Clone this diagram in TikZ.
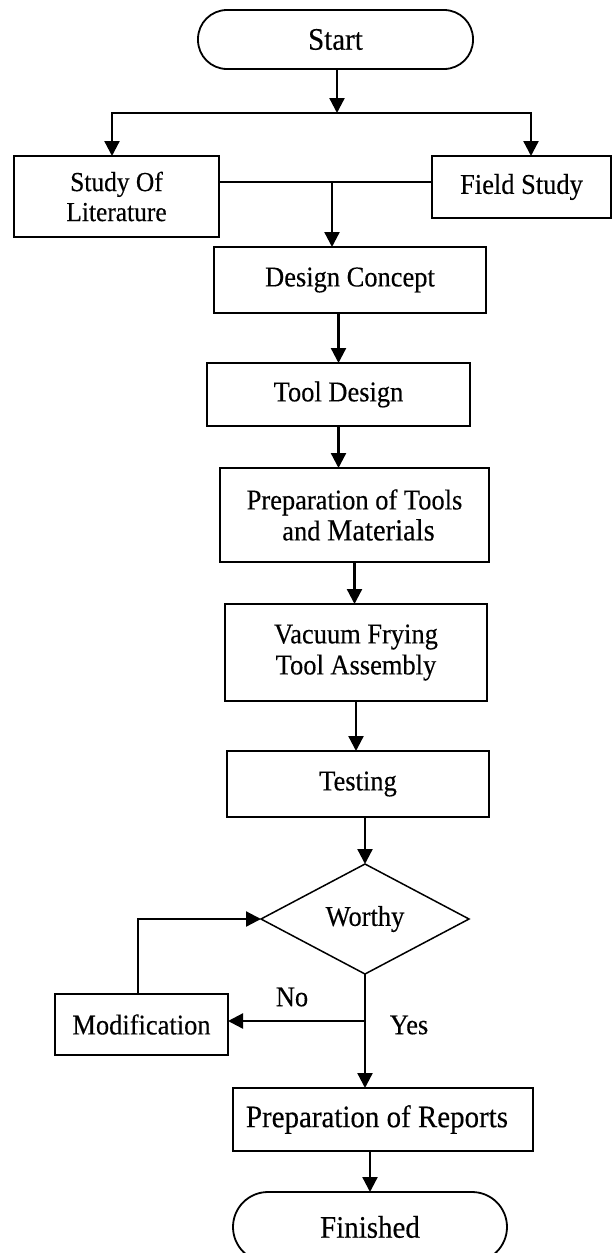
\documentclass[tikz,border=0pt]{standalone}
\usepackage{fontspec}
\setmainfont[FakeStretch=0.925, FakeBold=0.3]{Liberation Serif}
\usepackage{tikz}
\usetikzlibrary{shapes.geometric, arrows.meta, positioning, calc}
\newcommand{\boxfont}{\fontsize{28.6}{31}\selectfont}
\newcommand{\bigboxfont}{\fontsize{31.3}{33}\selectfont}
\begin{document}
\begin{tikzpicture}[x=1pt, y=1pt, font=\boxfont,
        term/.style={rectangle, draw, line width=1.8pt, inner sep=0pt, outer sep=0pt, font=\bigboxfont},
        stepbox/.style={rectangle, draw, line width=1.8pt, inner sep=0pt, outer sep=0pt, align=center},
        decide/.style={diamond, draw, line width=1.5pt, inner sep=0pt, outer sep=0pt, aspect=1.9, minimum width=208pt, minimum height=110pt},
        line/.style={draw, -{Triangle[length=15pt, width=15pt]}, line width=2.3pt},
        joinline/.style={draw, line width=1.6pt}]

        \useasboundingbox (0,0) rectangle (613,-1253);

        \node [term, rounded corners=29pt, minimum width=275pt, minimum height=59pt] (start) at (335.5,-39.5) {Start};

        \node [stepbox, minimum width=205pt, minimum height=81pt, font=\fontsize{27.5}{30}\selectfont, below=87pt of start, xshift=-219pt] (study) {Study Of\\Literature};

        \node [stepbox, minimum width=179pt, minimum height=62pt, below=87pt of start, xshift=186pt] (field) {Field Study};

        \node [stepbox, minimum width=272pt, minimum height=66pt, below=178pt of start, xshift=14.5pt] (design) {Design Concept};

        \node [stepbox, minimum width=263pt, minimum height=63pt, below=50pt of design, xshift=-11.5pt] (tool) {Tool Design};

        \node [stepbox, minimum width=269pt, minimum height=94pt, below=42pt of tool, xshift=16pt] (preptools) {Preparation of Tools\\\hspace{8pt}and {\fontsize{30.8}{31}\selectfont Materials}};

        \node [stepbox, minimum width=262pt, minimum height=97pt, below=42pt of preptools, xshift=1.5pt] (vacuum) {Vacuum Frying\\Tool Assembly};

        \node [stepbox, minimum width=262pt, minimum height=66pt, below=50pt of vacuum, xshift=2pt] (testing) {Testing};

        \node [decide, below=47pt of testing, xshift=7pt] (worthy) {Worthy};

        \node [stepbox, minimum width=173pt, minimum height=61pt, left=137pt of worthy.south, yshift=-50.5pt] (modif) {Modification};

        \node [stepbox, minimum width=300pt, minimum height=63pt, font=\bigboxfont, below=114pt of worthy, xshift=18pt] (reports) {Preparation of Reports\hspace{12pt}};

        \node [term, rounded corners=35pt, minimum width=274pt, minimum height=70pt, below=41pt of reports, xshift=-13pt] (finished) {Finished};

        \coordinate (fork) at (337,-113);
        \coordinate (merge) at (332,-182);
        \coordinate (nojoin) at ($(worthy.south)+(0,-47)$);

        \path [line] (fork |- start.south) -- (fork);
        \path [line] (fork) -| ([xshift=-4.5pt]study.north);
        \path [line] (fork) -| ([xshift=9.5pt]field.north);

        \path [joinline] (study.east |- merge) -- (field.west |- merge);
        \path [line] (merge) -- (merge |- design.north);

        \path [line] (tool.north |- design.south) -- (tool.north);
        \path [line] (tool.south) -- (tool.south |- preptools.north);
        \path [line] (preptools.south) -- (preptools.south |- vacuum.north);
        \path [line] (vacuum.south) -- (vacuum.south |- testing.north);
        \path [line] (worthy.north |- testing.south) -- (worthy.north);

        \path [line] (worthy.south) -- (worthy.south |- reports.north);
        \path [line] (nojoin) -- (nojoin -| modif.east);
        \path [line] ([xshift=-3.5pt]modif.north) |- (worthy.west);
        \path [line] (finished.north |- reports.south) -- (finished.north);

        \node (nolabel) at (292,-997) {No};
        \node (yeslabel) at (409,-1025) {Yes};
    \end{tikzpicture}
\end{document}
